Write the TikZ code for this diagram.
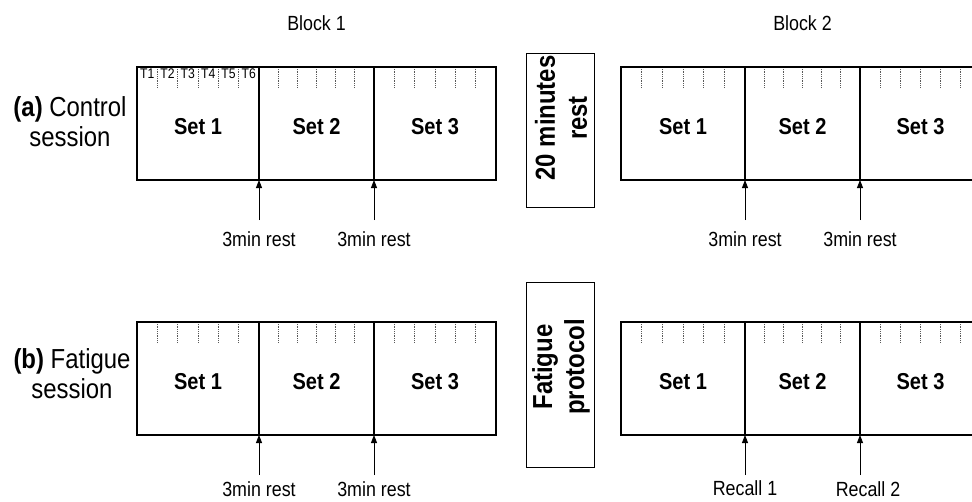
\documentclass[tikz,border=0pt]{standalone}
\usepackage{fontspec}
\setmainfont{Liberation Sans}[FakeStretch=0.87]
\usetikzlibrary{positioning,arrows.meta,calc}

\begin{document}
\begin{tikzpicture}[x=1pt,y=-1pt,
            setbox/.style={rectangle,draw,line width=1.4pt,outer sep=0pt,inner sep=0pt,minimum height=113pt,text height=22pt,text depth=0pt,font=\fontsize{23}{27}\selectfont\bfseries},
            frame/.style={line width=2.8pt},
            tick/.style={densely dotted,gray!70!black,line width=0.8pt},
            tlbl/.style={anchor=north,inner sep=1.5pt,font=\fontsize{14}{16}\selectfont},
            restbox/.style={rectangle,draw,line width=0.8pt,minimum width=68pt},
            resttxt/.style={rotate=90,align=center,font=\fontsize{27.5}{32}\selectfont\bfseries},
            restlbl/.style={inner xsep=2pt,inner ysep=1pt,font=\fontsize{20.5}{24}\selectfont},
            rowlbl/.style={align=center,font=\fontsize{27.5}{30}\selectfont},
            blocktitle/.style={font=\fontsize{20.5}{24}\selectfont},
            arrow/.style={-{Triangle[length=8pt,width=6pt]},line width=0.9pt}]
            \clip (0,0) rectangle (972,501);
            % control session
            \node[setbox,minimum width=122pt] (a1) at (198,123.5) {Set 1};
            \node[setbox,minimum width=115pt,right=0pt of a1] (a2) {Set 2};
            \node[setbox,minimum width=122pt,right=0pt of a2] (a3) {Set 3};
            \node[setbox,minimum width=124pt] (c1) at (683,123.5) {Set 1};
            \node[setbox,minimum width=115pt,right=0pt of c1] (c2) {Set 2};
            \node[setbox,minimum width=121pt,right=0pt of c2] (c3) {Set 3};
            % fatigue session
            \node[setbox,minimum width=122pt] (b1) at (198,378.5) {Set 1};
            \node[setbox,minimum width=115pt,right=0pt of b1] (b2) {Set 2};
            \node[setbox,minimum width=122pt,right=0pt of b2] (b3) {Set 3};
            \node[setbox,minimum width=124pt] (d1) at (683,378.5) {Set 1};
            \node[setbox,minimum width=115pt,right=0pt of d1] (d2) {Set 2};
            \node[setbox,minimum width=121pt,right=0pt of d2] (d3) {Set 3};
            % trials
            \foreach \s in {a1,a2,a3,b1,b2,b3,c1,c2,c3,d1,d2,d3}
                \foreach \k in {1,...,5}
                    \draw[tick] ($(\s.north west)!\k/6!(\s.north east)$) -- ++(0,20);
            \foreach \p/\q in {a1/a3,b1/b3,c1/c3,d1/d3}
                \draw[frame] (\p.north west) rectangle (\q.south east);
            \foreach \k in {1,...,6}
                \node[tlbl] (t\k) at ($(a1.north west)!{(\k-0.5)/6}!(a1.north east)$) {T\k};
            % between blocks
            \node[restbox,minimum height=154pt] (rest) at (560,130) {};
            \node[resttxt] (resttext) at (561,118) {20 minutes\\rest};
            \node[restbox,minimum height=185pt] (fat) at (560,374.5) {};
            \node[resttxt] (fattext) at (561,367) {Fatigue\\protocol};
            % labels
            \node[rowlbl] (ctrl) at (70,122) {\textbf{(a)} Control\\session};
            \node[rowlbl] (fatg) at (72,374) {\textbf{(b)} Fatigue\\session};
            \node[blocktitle,above=33pt of a2] (blk1) {Block 1};
            \node[blocktitle,above=33pt of c2] (blk2) {Block 2};
            % rests and recalls
            \node[restlbl,below=50pt of a1.south east] (ra1) {3min rest};
            \node[restlbl,below=50pt of a2.south east] (ra2) {3min rest};
            \node[restlbl,below=50pt of c1.south east] (rc1) {3min rest};
            \node[restlbl,below=50pt of c2.south east] (rc2) {3min rest};
            \node[restlbl,below=45pt of b1.south east] (rb1) {3min rest};
            \node[restlbl,below=45pt of b2.south east] (rb2) {3min rest};
            \node[restlbl,below=44pt of d1.south east] (rd1) {Recall 1};
            \node[restlbl,below=45pt of d2.south east,xshift=8pt] (rd2) {Recall 2};
            \draw[arrow] ([yshift=10pt]ra1.north) -- (a1.south east);
            \draw[arrow] ([yshift=10pt]ra2.north) -- (a2.south east);
            \draw[arrow] ([yshift=10pt]rc1.north) -- (c1.south east);
            \draw[arrow] ([yshift=10pt]rc2.north) -- (c2.south east);
            \draw[arrow] ([yshift=5pt]rb1.north) -- (b1.south east);
            \draw[arrow] ([yshift=5pt]rb2.north) -- (b2.south east);
            \draw[arrow] ([yshift=4pt]rd1.north) -- (d1.south east);
            \draw[arrow] ([yshift=5pt]rd2.north -| d2.south east) -- (d2.south east);
        \end{tikzpicture}
\end{document}
